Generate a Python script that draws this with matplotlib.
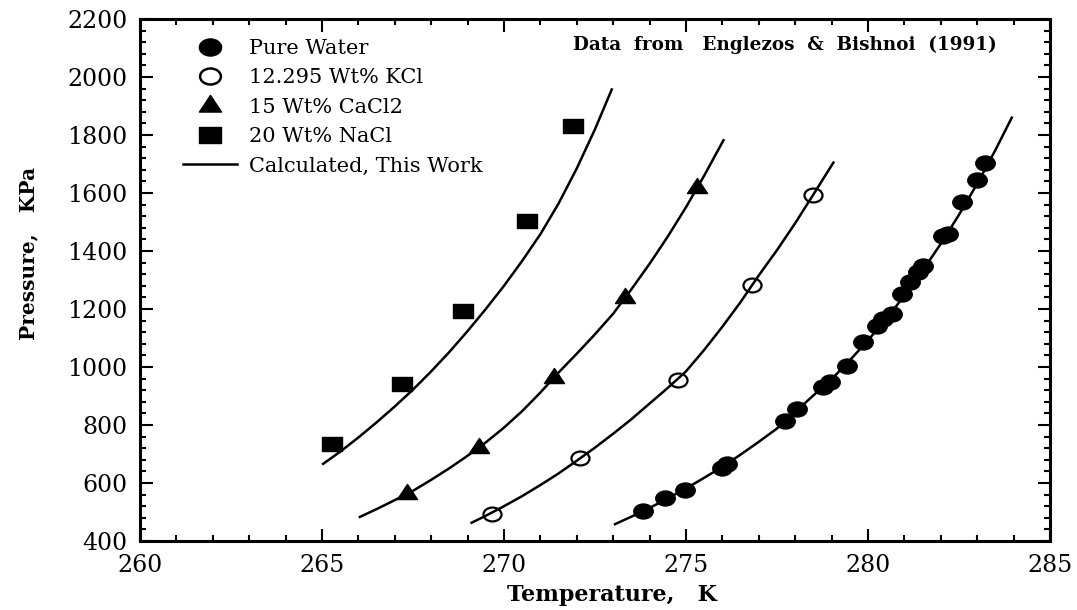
import numpy as np
import matplotlib
matplotlib.use("Agg")
import matplotlib.pyplot as plt
from matplotlib.path import Path
from matplotlib.transforms import Affine2D
from matplotlib.lines import Line2D
from matplotlib.ticker import MultipleLocator

# experimental hydrate points (T in K, P in kPa)
t_water = [273.83, 274.42, 274.97, 275.98, 276.12, 277.72, 278.04, 278.77, 278.96,
           279.41, 279.87, 280.24, 280.42, 280.65, 280.93, 281.15, 281.38, 281.52,
           282.07, 282.20, 282.57, 282.99, 283.21]
p_water = [504, 547, 575, 653, 665, 814, 855, 930, 947,
           1004, 1085, 1143, 1166, 1183, 1252, 1292, 1327, 1350,
           1453, 1460, 1569, 1646, 1703]

t_kcl = [269.67, 272.09, 274.78, 276.81, 278.49]
p_kcl = [493, 687, 956, 1284, 1592]

t_cacl2 = [267.34, 269.31, 271.37, 273.32, 275.30]
p_cacl2 = [562, 721, 963, 1239, 1616]

t_nacl = [265.27, 267.20, 268.87, 270.63, 271.90]
p_nacl = [735, 942, 1193, 1505, 1830]

# calculated equilibrium curves
tc_water = [273.05, 273.5, 274.0, 274.5, 275.0, 275.5, 276.0, 276.5, 277.0, 277.5, 278.0,
            278.5, 279.0, 279.5, 280.0, 280.5, 281.0, 281.5, 282.0, 282.5, 283.0, 283.5, 283.95]
pc_water = [458, 484, 514, 547, 581, 618, 656, 698, 742, 788, 845,
            902, 958, 1023, 1092, 1166, 1246, 1332, 1425, 1525, 1632, 1748, 1860]

tc_kcl = [269.11, 269.5, 270.0, 270.5, 271.0, 271.5, 272.0, 272.5, 273.0, 273.5, 274.0,
          274.5, 275.0, 275.5, 276.0, 276.5, 277.0, 277.5, 278.0, 278.5, 279.05]
pc_kcl = [463, 487, 520, 555, 593, 633, 677, 722, 770, 820, 874,
          928, 985, 1059, 1139, 1224, 1316, 1403, 1496, 1595, 1705]

tc_cacl2 = [266.04, 266.5, 267.0, 267.5, 268.0, 268.5, 269.0, 269.5, 270.0, 270.5, 271.0,
            271.5, 272.0, 272.5, 273.0, 273.5, 274.0, 274.5, 275.0, 275.5, 276.03]
pc_cacl2 = [483, 510, 541, 573, 611, 651, 694, 740, 791, 848, 912,
            981, 1046, 1113, 1184, 1268, 1356, 1450, 1551, 1660, 1782]

tc_nacl = [265.03, 265.5, 266.0, 266.5, 267.0, 267.5, 268.0, 268.5, 269.0, 269.5, 270.0,
           270.5, 271.0, 271.5, 272.0, 272.5, 272.96]
pc_nacl = [666, 708, 757, 809, 864, 922, 985, 1052, 1124, 1200, 1280,
           1366, 1458, 1564, 1685, 1820, 1957]

labels = ["Pure Water", "12.295 Wt% KCl", "15 Wt% CaCl2", "20 Wt% NaCl", "Calculated, This Work"]

# slightly wide marker shapes
circ = Path.unit_circle().transformed(Affine2D().scale(1.3, 1.0))
sq = Path.unit_rectangle().transformed(Affine2D().translate(-0.5, -0.5).scale(1.35, 1.0))
tri = Path.unit_regular_polygon(3).transformed(Affine2D().scale(1.15, 1.0))

plt.rcParams['font.family'] = 'DejaVu Serif'

fig = plt.figure(figsize=(10.77, 6.10), dpi=100)
ax = fig.add_axes([140 / 1077, 1 - 541 / 610, 910 / 1077, 522 / 610])

for tc, pc in [(tc_water, pc_water), (tc_kcl, pc_kcl), (tc_cacl2, pc_cacl2), (tc_nacl, pc_nacl)]:
    ax.plot(tc, pc, color='black', lw=1.8, zorder=2)

ax.plot(t_water, p_water, ls='none', marker=circ, ms=14, color='black', zorder=3)
ax.plot(t_kcl, p_kcl, ls='none', marker=circ, ms=13, mfc='none', mec='black', mew=1.6, zorder=3)
ax.plot(t_cacl2, p_cacl2, ls='none', marker=tri, ms=14.5, color='black', zorder=3)
ax.plot(t_nacl, p_nacl, ls='none', marker=sq, ms=14.5, color='black', zorder=3)

ax.set_xlim(260, 285)
ax.set_ylim(400, 2200)
ax.xaxis.set_major_locator(MultipleLocator(5))
ax.xaxis.set_minor_locator(MultipleLocator(1))
ax.yaxis.set_major_locator(MultipleLocator(200))
ax.yaxis.set_minor_locator(MultipleLocator(40))
ax.tick_params(which='both', direction='in', top=True, right=True, width=1.5, labelsize=17)
ax.tick_params(which='major', length=9)
ax.tick_params(which='minor', length=4.5)
ax.tick_params(axis='y', pad=9)
ax.tick_params(axis='x', pad=9)
for s in ax.spines.values():
    s.set_linewidth(2.2)

ax.set_xlabel("Temperature,   K", fontsize=16, fontweight='bold')
ax.xaxis.set_label_coords(0.519, -0.083)
ax.set_ylabel("Pressure,   KPa", fontsize=14.5, fontweight='bold')
ax.yaxis.set_label_coords(-0.112, 0.551)

fig.text(573 / 1077, 1 - 45 / 610, "Data  from   Englezos  &  Bishnoi  (1991)",
         fontsize=13.2, fontweight='bold', va='center', ha='left')

handles = [
    Line2D([], [], ls='none', marker=circ, ms=16, color='black'),
    Line2D([], [], ls='none', marker=circ, ms=15, mfc='none', mec='black', mew=1.8),
    Line2D([], [], ls='none', marker=tri, ms=16, color='black'),
    Line2D([], [], ls='none', marker=sq, ms=16, color='black'),
    Line2D([], [], color='black', lw=1.8),
]
leg = ax.legend(handles, labels, loc='upper left', bbox_to_anchor=(43 / 910, 1 - 20 / 522),
                frameon=False, fontsize=15, handlelength=2.6, handletextpad=0.55,
                labelspacing=0.5, borderpad=0, borderaxespad=0)

fig.savefig("out.png", dpi=100)
